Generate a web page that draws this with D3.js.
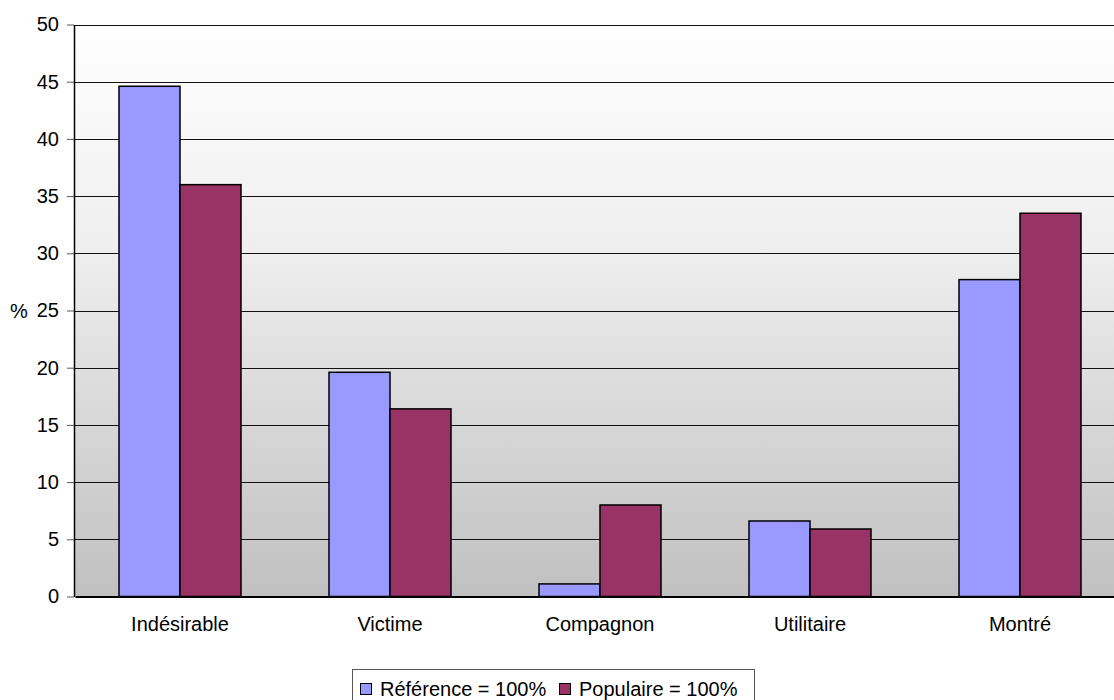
<!DOCTYPE html>
<html>
<head>
<meta charset="utf-8">
<script src="https://cdn.jsdelivr.net/npm/d3@7"></script>
<style>
  html, body { margin: 0; padding: 0; background: #fff; overflow: hidden; }
  svg { display: block; font-family: "Liberation Sans", Arial, sans-serif; }
</style>
</head>
<body>
<svg id="chart" width="1114" height="700"></svg>
<script>
// Categories and series (percentages)
const categories = ["Indésirable", "Victime", "Compagnon", "Utilitaire", "Montré"];
const seriesNames = ["Référence = 100%", "Populaire = 100%"];
const referenceValues = [44.6, 19.6, 1.1, 6.6, 27.7];
const populaireValues = [36.0, 16.4, 8.0, 5.9, 33.5];
const seriesColors = ["#9999ff", "#993366"];
const yTicks = [0, 5, 10, 15, 20, 25, 30, 35, 40, 45, 50];

const svg = d3.select("#chart");
const fontSize = 20;

// The plot area runs slightly past the right edge of the page
const plot = { left: 74, right: 1125, top: 24.5, bottom: 596.5 };

const y = d3.scaleLinear().domain([0, 50]).range([plot.bottom, plot.top]);
const x0 = d3.scaleBand().domain(categories).range([75, 1125]).padding(0);
const x1 = d3.scaleBand().domain(seriesNames).range([44, x0.bandwidth() - 44]).padding(0);

// Plot-area background: white at the top fading to grey at the bottom
const defs = svg.append("defs");
const grad = defs.append("linearGradient")
  .attr("id", "bg").attr("x1", 0).attr("y1", 0).attr("x2", 0).attr("y2", 1);
grad.append("stop").attr("offset", "0%").attr("stop-color", "#ffffff");
grad.append("stop").attr("offset", "40%").attr("stop-color", "#eeeeee");
grad.append("stop").attr("offset", "100%").attr("stop-color", "#c0c0c0");

svg.append("rect")
  .attr("x", plot.left).attr("y", plot.top)
  .attr("width", plot.right - plot.left).attr("height", plot.bottom - plot.top)
  .attr("fill", "url(#bg)");

// Horizontal gridlines
svg.append("g").selectAll("line")
  .data(yTicks.filter(d => d > 0))
  .join("line")
  .attr("x1", plot.left).attr("x2", plot.right)
  .attr("y1", d => Math.round(y(d)) + 0.5).attr("y2", d => Math.round(y(d)) + 0.5)
  .attr("stroke", "#111").attr("stroke-width", 1.2);

// Bars
const rows = categories.map((c, i) => ({ cat: c, values: [referenceValues[i], populaireValues[i]] }));
const groups = svg.append("g").selectAll("g")
  .data(rows)
  .join("g")
  .attr("transform", d => `translate(${x0(d.cat)},0)`);

groups.selectAll("rect")
  .data(d => d.values.map((v, j) => ({ name: seriesNames[j], value: v, color: seriesColors[j] })))
  .join("rect")
  .attr("x", d => x1(d.name))
  .attr("width", x1.bandwidth())
  .attr("y", d => y(d.value))
  .attr("height", d => y(0) - y(d.value))
  .attr("fill", d => d.color)
  .attr("stroke", "#000")
  .attr("stroke-width", 1.5);

// Y axis
const yAxis = d3.axisLeft(y).tickValues(yTicks).tickSize(7).tickPadding(8).tickSizeOuter(0);
const gy = svg.append("g")
  .attr("transform", `translate(${plot.left},0)`)
  .call(yAxis);
gy.select(".domain").attr("stroke", "#000").attr("stroke-width", 1.5);
gy.selectAll(".tick line").attr("stroke", "#555");
gy.selectAll(".tick text")
  .attr("font-size", fontSize).attr("font-family", "Liberation Sans, Arial, sans-serif")
  .attr("fill", "#000");

// X axis
const xAxis = d3.axisBottom(x0).tickSize(0).tickPadding(20).tickSizeOuter(0);
const gx = svg.append("g")
  .attr("transform", `translate(0,${plot.bottom})`)
  .call(xAxis);
gx.select(".domain").attr("stroke", "#000").attr("stroke-width", 2);
gx.selectAll(".tick text")
  .attr("font-size", fontSize).attr("font-family", "Liberation Sans, Arial, sans-serif")
  .attr("fill", "#000");

// Y axis title
svg.append("text")
  .attr("x", 10).attr("y", y(25))
  .attr("dy", "0.35em")
  .attr("font-size", fontSize)
  .attr("fill", "#000")
  .text("%");

// Legend
const legend = svg.append("g");
legend.append("rect")
  .attr("x", 352.5).attr("y", 669.5)
  .attr("width", 402).attr("height", 40)
  .attr("fill", "#fff").attr("stroke", "#555").attr("stroke-width", 1);

const legendX = [360, 559];
seriesNames.forEach((name, j) => {
  legend.append("rect")
    .attr("x", legendX[j] + 0.5).attr("y", 683.5)
    .attr("width", 11).attr("height", 11)
    .attr("fill", seriesColors[j]).attr("stroke", "#000").attr("stroke-width", 1);
  legend.append("text")
    .attr("x", legendX[j] + 20).attr("y", 689)
    .attr("dy", "0.35em")
    .attr("font-size", fontSize)
    .attr("fill", "#000")
    .text(name);
});
</script>
</body>
</html>
